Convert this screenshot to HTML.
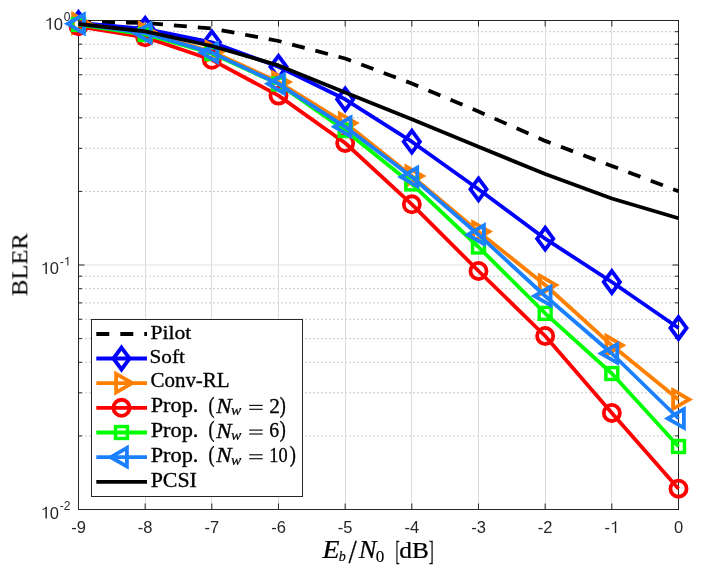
<!DOCTYPE html>
<html><head><meta charset="utf-8"><style>
html,body{margin:0;padding:0;background:#fff;width:705px;height:575px;overflow:hidden}
svg{display:block}
text{will-change:transform}
</style></head><body>
<svg width="705" height="575" viewBox="0 0 705 575">
<rect x="0" y="0" width="705" height="575" fill="#fff"/>
<line x1="79" y1="435.90" x2="678.5" y2="435.90" stroke="#c8c8c8" stroke-width="1" stroke-dasharray="2 2" stroke-dashoffset="2"/>
<line x1="79" y1="392.84" x2="678.5" y2="392.84" stroke="#c8c8c8" stroke-width="1" stroke-dasharray="2 2" stroke-dashoffset="2"/>
<line x1="79" y1="362.30" x2="678.5" y2="362.30" stroke="#c8c8c8" stroke-width="1" stroke-dasharray="2 2" stroke-dashoffset="2"/>
<line x1="79" y1="338.60" x2="678.5" y2="338.60" stroke="#c8c8c8" stroke-width="1" stroke-dasharray="2 2" stroke-dashoffset="2"/>
<line x1="79" y1="319.24" x2="678.5" y2="319.24" stroke="#c8c8c8" stroke-width="1" stroke-dasharray="2 2" stroke-dashoffset="2"/>
<line x1="79" y1="302.87" x2="678.5" y2="302.87" stroke="#c8c8c8" stroke-width="1" stroke-dasharray="2 2" stroke-dashoffset="2"/>
<line x1="79" y1="288.69" x2="678.5" y2="288.69" stroke="#c8c8c8" stroke-width="1" stroke-dasharray="2 2" stroke-dashoffset="2"/>
<line x1="79" y1="276.19" x2="678.5" y2="276.19" stroke="#c8c8c8" stroke-width="1" stroke-dasharray="2 2" stroke-dashoffset="2"/>
<line x1="79" y1="191.40" x2="678.5" y2="191.40" stroke="#c8c8c8" stroke-width="1" stroke-dasharray="2 2" stroke-dashoffset="2"/>
<line x1="79" y1="148.34" x2="678.5" y2="148.34" stroke="#c8c8c8" stroke-width="1" stroke-dasharray="2 2" stroke-dashoffset="2"/>
<line x1="79" y1="117.80" x2="678.5" y2="117.80" stroke="#c8c8c8" stroke-width="1" stroke-dasharray="2 2" stroke-dashoffset="2"/>
<line x1="79" y1="94.10" x2="678.5" y2="94.10" stroke="#c8c8c8" stroke-width="1" stroke-dasharray="2 2" stroke-dashoffset="2"/>
<line x1="79" y1="74.74" x2="678.5" y2="74.74" stroke="#c8c8c8" stroke-width="1" stroke-dasharray="2 2" stroke-dashoffset="2"/>
<line x1="79" y1="58.37" x2="678.5" y2="58.37" stroke="#c8c8c8" stroke-width="1" stroke-dasharray="2 2" stroke-dashoffset="2"/>
<line x1="79" y1="44.19" x2="678.5" y2="44.19" stroke="#c8c8c8" stroke-width="1" stroke-dasharray="2 2" stroke-dashoffset="2"/>
<line x1="79" y1="31.69" x2="678.5" y2="31.69" stroke="#c8c8c8" stroke-width="1" stroke-dasharray="2 2" stroke-dashoffset="2"/>
<line x1="145.50" y1="20.5" x2="145.50" y2="509.5" stroke="#dcdcdc" stroke-width="1"/>
<line x1="211.50" y1="20.5" x2="211.50" y2="509.5" stroke="#dcdcdc" stroke-width="1"/>
<line x1="278.50" y1="20.5" x2="278.50" y2="509.5" stroke="#dcdcdc" stroke-width="1"/>
<line x1="345.50" y1="20.5" x2="345.50" y2="509.5" stroke="#dcdcdc" stroke-width="1"/>
<line x1="411.50" y1="20.5" x2="411.50" y2="509.5" stroke="#dcdcdc" stroke-width="1"/>
<line x1="478.50" y1="20.5" x2="478.50" y2="509.5" stroke="#dcdcdc" stroke-width="1"/>
<line x1="545.50" y1="20.5" x2="545.50" y2="509.5" stroke="#dcdcdc" stroke-width="1"/>
<line x1="611.50" y1="20.5" x2="611.50" y2="509.5" stroke="#dcdcdc" stroke-width="1"/>
<line x1="78.5" y1="265.00" x2="678.5" y2="265.00" stroke="#e1e1e1" stroke-width="1"/>
<rect x="78.5" y="20.5" width="600.0" height="489.0" fill="none" stroke="#262626" stroke-width="1"/>
<path d="M78.50 509.5v-6M78.50 20.5v6M145.17 509.5v-6M145.17 20.5v6M211.83 509.5v-6M211.83 20.5v6M278.50 509.5v-6M278.50 20.5v6M345.17 509.5v-6M345.17 20.5v6M411.83 509.5v-6M411.83 20.5v6M478.50 509.5v-6M478.50 20.5v6M545.17 509.5v-6M545.17 20.5v6M611.83 509.5v-6M611.83 20.5v6M678.50 509.5v-6M678.50 20.5v6M78.5 20.50h6M678.5 20.50h-6M78.5 265.00h6M678.5 265.00h-6M78.5 509.50h6M678.5 509.50h-6M78.5 435.90h3.5M678.5 435.90h-3.5M78.5 392.84h3.5M678.5 392.84h-3.5M78.5 362.30h3.5M678.5 362.30h-3.5M78.5 338.60h3.5M678.5 338.60h-3.5M78.5 319.24h3.5M678.5 319.24h-3.5M78.5 302.87h3.5M678.5 302.87h-3.5M78.5 288.69h3.5M678.5 288.69h-3.5M78.5 276.19h3.5M678.5 276.19h-3.5M78.5 191.40h3.5M678.5 191.40h-3.5M78.5 148.34h3.5M678.5 148.34h-3.5M78.5 117.80h3.5M678.5 117.80h-3.5M78.5 94.10h3.5M678.5 94.10h-3.5M78.5 74.74h3.5M678.5 74.74h-3.5M78.5 58.37h3.5M678.5 58.37h-3.5M78.5 44.19h3.5M678.5 44.19h-3.5M78.5 31.69h3.5M678.5 31.69h-3.5" stroke="#262626" stroke-width="1" fill="none"/>
<polyline points="78.50,21.50 145.17,23.00 211.83,28.50 278.50,41.00 345.17,58.50 411.83,83.50 478.50,111.50 545.17,140.90 611.83,166.00 678.50,191.20" fill="none" stroke="#000000" stroke-width="3.8" stroke-linejoin="round" stroke-dasharray="13 11" stroke-dashoffset="0.5"/>
<polyline points="78.50,23.00 145.17,28.80 211.83,42.30 278.50,66.80 345.17,99.30 411.83,141.70 478.50,189.30 545.17,238.70 611.83,282.00 678.50,328.00" fill="none" stroke="#0000ff" stroke-width="3.8" stroke-linejoin="round"/>
<path d="M78.50 12.05L86.60 23.00L78.50 33.95L70.40 23.00Z" fill="none" stroke="#0000ff" stroke-width="3.8" stroke-linejoin="miter"/>
<path d="M145.17 17.85L153.27 28.80L145.17 39.75L137.07 28.80Z" fill="none" stroke="#0000ff" stroke-width="3.8" stroke-linejoin="miter"/>
<path d="M211.83 31.35L219.93 42.30L211.83 53.25L203.73 42.30Z" fill="none" stroke="#0000ff" stroke-width="3.8" stroke-linejoin="miter"/>
<path d="M278.50 55.85L286.60 66.80L278.50 77.75L270.40 66.80Z" fill="none" stroke="#0000ff" stroke-width="3.8" stroke-linejoin="miter"/>
<path d="M345.17 88.35L353.27 99.30L345.17 110.25L337.07 99.30Z" fill="none" stroke="#0000ff" stroke-width="3.8" stroke-linejoin="miter"/>
<path d="M411.83 130.75L419.93 141.70L411.83 152.65L403.73 141.70Z" fill="none" stroke="#0000ff" stroke-width="3.8" stroke-linejoin="miter"/>
<path d="M478.50 178.35L486.60 189.30L478.50 200.25L470.40 189.30Z" fill="none" stroke="#0000ff" stroke-width="3.8" stroke-linejoin="miter"/>
<path d="M545.17 227.75L553.27 238.70L545.17 249.65L537.07 238.70Z" fill="none" stroke="#0000ff" stroke-width="3.8" stroke-linejoin="miter"/>
<path d="M611.83 271.05L619.93 282.00L611.83 292.95L603.73 282.00Z" fill="none" stroke="#0000ff" stroke-width="3.8" stroke-linejoin="miter"/>
<path d="M678.50 317.05L686.60 328.00L678.50 338.95L670.40 328.00Z" fill="none" stroke="#0000ff" stroke-width="3.8" stroke-linejoin="miter"/>
<polyline points="78.50,23.50 145.17,32.80 211.83,51.50 278.50,82.00 345.17,123.00 411.83,176.00 478.50,231.60 545.17,285.00 611.83,345.30 678.50,399.50" fill="none" stroke="#ff8000" stroke-width="3.8" stroke-linejoin="round"/>
<path d="M73.10 14.20L89.30 23.50L73.10 32.80Z" fill="none" stroke="#ff8000" stroke-width="3.8" stroke-linejoin="miter"/>
<path d="M139.77 23.50L155.97 32.80L139.77 42.10Z" fill="none" stroke="#ff8000" stroke-width="3.8" stroke-linejoin="miter"/>
<path d="M206.43 42.20L222.63 51.50L206.43 60.80Z" fill="none" stroke="#ff8000" stroke-width="3.8" stroke-linejoin="miter"/>
<path d="M273.10 72.70L289.30 82.00L273.10 91.30Z" fill="none" stroke="#ff8000" stroke-width="3.8" stroke-linejoin="miter"/>
<path d="M339.77 113.70L355.97 123.00L339.77 132.30Z" fill="none" stroke="#ff8000" stroke-width="3.8" stroke-linejoin="miter"/>
<path d="M406.43 166.70L422.63 176.00L406.43 185.30Z" fill="none" stroke="#ff8000" stroke-width="3.8" stroke-linejoin="miter"/>
<path d="M473.10 222.30L489.30 231.60L473.10 240.90Z" fill="none" stroke="#ff8000" stroke-width="3.8" stroke-linejoin="miter"/>
<path d="M539.77 275.70L555.97 285.00L539.77 294.30Z" fill="none" stroke="#ff8000" stroke-width="3.8" stroke-linejoin="miter"/>
<path d="M606.43 336.00L622.63 345.30L606.43 354.60Z" fill="none" stroke="#ff8000" stroke-width="3.8" stroke-linejoin="miter"/>
<path d="M673.10 390.20L689.30 399.50L673.10 408.80Z" fill="none" stroke="#ff8000" stroke-width="3.8" stroke-linejoin="miter"/>
<polyline points="78.50,26.30 145.17,37.30 211.83,59.80 278.50,95.60 345.17,143.00 411.83,204.30 478.50,271.00 545.17,336.00 611.83,413.00 678.50,488.70" fill="none" stroke="#ff0000" stroke-width="3.8" stroke-linejoin="round"/>
<circle cx="78.50" cy="26.30" r="8.05" fill="none" stroke="#ff0000" stroke-width="3.8"/>
<circle cx="145.17" cy="37.30" r="8.05" fill="none" stroke="#ff0000" stroke-width="3.8"/>
<circle cx="211.83" cy="59.80" r="8.05" fill="none" stroke="#ff0000" stroke-width="3.8"/>
<circle cx="278.50" cy="95.60" r="8.05" fill="none" stroke="#ff0000" stroke-width="3.8"/>
<circle cx="345.17" cy="143.00" r="8.05" fill="none" stroke="#ff0000" stroke-width="3.8"/>
<circle cx="411.83" cy="204.30" r="8.05" fill="none" stroke="#ff0000" stroke-width="3.8"/>
<circle cx="478.50" cy="271.00" r="8.05" fill="none" stroke="#ff0000" stroke-width="3.8"/>
<circle cx="545.17" cy="336.00" r="8.05" fill="none" stroke="#ff0000" stroke-width="3.8"/>
<circle cx="611.83" cy="413.00" r="8.05" fill="none" stroke="#ff0000" stroke-width="3.8"/>
<circle cx="678.50" cy="488.70" r="8.05" fill="none" stroke="#ff0000" stroke-width="3.8"/>
<polyline points="78.50,24.50 145.17,34.50 211.83,53.50 278.50,84.00 345.17,130.50 411.83,183.90 478.50,247.00 545.17,313.40 611.83,373.50 678.50,446.50" fill="none" stroke="#00ff00" stroke-width="3.8" stroke-linejoin="round"/>
<rect x="72.55" y="18.55" width="11.9" height="11.9" fill="none" stroke="#00ff00" stroke-width="3.42"/>
<rect x="139.22" y="28.55" width="11.9" height="11.9" fill="none" stroke="#00ff00" stroke-width="3.42"/>
<rect x="205.88" y="47.55" width="11.9" height="11.9" fill="none" stroke="#00ff00" stroke-width="3.42"/>
<rect x="272.55" y="78.05" width="11.9" height="11.9" fill="none" stroke="#00ff00" stroke-width="3.42"/>
<rect x="339.22" y="124.55" width="11.9" height="11.9" fill="none" stroke="#00ff00" stroke-width="3.42"/>
<rect x="405.88" y="177.95" width="11.9" height="11.9" fill="none" stroke="#00ff00" stroke-width="3.42"/>
<rect x="472.55" y="241.05" width="11.9" height="11.9" fill="none" stroke="#00ff00" stroke-width="3.42"/>
<rect x="539.22" y="307.45" width="11.9" height="11.9" fill="none" stroke="#00ff00" stroke-width="3.42"/>
<rect x="605.88" y="367.55" width="11.9" height="11.9" fill="none" stroke="#00ff00" stroke-width="3.42"/>
<rect x="672.55" y="440.55" width="11.9" height="11.9" fill="none" stroke="#00ff00" stroke-width="3.42"/>
<polyline points="78.50,23.80 145.17,33.00 211.83,52.60 278.50,83.80 345.17,126.80 411.83,177.00 478.50,234.70 545.17,296.00 611.83,353.50 678.50,418.50" fill="none" stroke="#1a80ff" stroke-width="3.8" stroke-linejoin="round"/>
<path d="M83.90 14.50L67.70 23.80L83.90 33.10Z" fill="none" stroke="#1a80ff" stroke-width="3.8" stroke-linejoin="miter"/>
<path d="M150.57 23.70L134.37 33.00L150.57 42.30Z" fill="none" stroke="#1a80ff" stroke-width="3.8" stroke-linejoin="miter"/>
<path d="M217.23 43.30L201.03 52.60L217.23 61.90Z" fill="none" stroke="#1a80ff" stroke-width="3.8" stroke-linejoin="miter"/>
<path d="M283.90 74.50L267.70 83.80L283.90 93.10Z" fill="none" stroke="#1a80ff" stroke-width="3.8" stroke-linejoin="miter"/>
<path d="M350.57 117.50L334.37 126.80L350.57 136.10Z" fill="none" stroke="#1a80ff" stroke-width="3.8" stroke-linejoin="miter"/>
<path d="M417.23 167.70L401.03 177.00L417.23 186.30Z" fill="none" stroke="#1a80ff" stroke-width="3.8" stroke-linejoin="miter"/>
<path d="M483.90 225.40L467.70 234.70L483.90 244.00Z" fill="none" stroke="#1a80ff" stroke-width="3.8" stroke-linejoin="miter"/>
<path d="M550.57 286.70L534.37 296.00L550.57 305.30Z" fill="none" stroke="#1a80ff" stroke-width="3.8" stroke-linejoin="miter"/>
<path d="M617.23 344.20L601.03 353.50L617.23 362.80Z" fill="none" stroke="#1a80ff" stroke-width="3.8" stroke-linejoin="miter"/>
<path d="M683.90 409.20L667.70 418.50L683.90 427.80Z" fill="none" stroke="#1a80ff" stroke-width="3.8" stroke-linejoin="miter"/>
<polyline points="78.50,24.00 145.17,31.30 211.83,46.00 278.50,65.40 345.17,92.40 411.83,119.30 478.50,146.80 545.17,174.00 611.83,198.50 678.50,218.30" fill="none" stroke="#000000" stroke-width="3.8" stroke-linejoin="round"/>
<text x="71.17" y="533.00" font-family="Liberation Sans, sans-serif" font-size="16.5" fill="#262626">-</text>
<text x="76.66" y="533.00" font-family="Liberation Sans, sans-serif" font-size="16.5" fill="#262626">9</text>
<text x="137.83" y="533.00" font-family="Liberation Sans, sans-serif" font-size="16.5" fill="#262626">-</text>
<text x="143.33" y="533.00" font-family="Liberation Sans, sans-serif" font-size="16.5" fill="#262626">8</text>
<text x="204.50" y="533.00" font-family="Liberation Sans, sans-serif" font-size="16.5" fill="#262626">-</text>
<text x="209.99" y="533.00" font-family="Liberation Sans, sans-serif" font-size="16.5" fill="#262626">7</text>
<text x="271.17" y="533.00" font-family="Liberation Sans, sans-serif" font-size="16.5" fill="#262626">-</text>
<text x="276.66" y="533.00" font-family="Liberation Sans, sans-serif" font-size="16.5" fill="#262626">6</text>
<text x="337.83" y="533.00" font-family="Liberation Sans, sans-serif" font-size="16.5" fill="#262626">-</text>
<text x="343.33" y="533.00" font-family="Liberation Sans, sans-serif" font-size="16.5" fill="#262626">5</text>
<text x="404.50" y="533.00" font-family="Liberation Sans, sans-serif" font-size="16.5" fill="#262626">-</text>
<text x="409.99" y="533.00" font-family="Liberation Sans, sans-serif" font-size="16.5" fill="#262626">4</text>
<text x="471.17" y="533.00" font-family="Liberation Sans, sans-serif" font-size="16.5" fill="#262626">-</text>
<text x="476.66" y="533.00" font-family="Liberation Sans, sans-serif" font-size="16.5" fill="#262626">3</text>
<text x="537.83" y="533.00" font-family="Liberation Sans, sans-serif" font-size="16.5" fill="#262626">-</text>
<text x="543.33" y="533.00" font-family="Liberation Sans, sans-serif" font-size="16.5" fill="#262626">2</text>
<text x="604.50" y="533.00" font-family="Liberation Sans, sans-serif" font-size="16.5" fill="#262626">-</text>
<path d="M616.23 533.00L616.23 521.30L615.14 521.30Q614.45 523.10 611.73 523.51L611.73 524.59Q613.71 524.34 614.78 523.35L614.78 533.00Z" fill="#262626"/>
<text x="673.91" y="533.00" font-family="Liberation Sans, sans-serif" font-size="16.5" fill="#262626">0</text>
<path d="M50.92 29.50L50.92 17.80L49.83 17.80Q49.14 19.60 46.41 20.01L46.41 21.09Q48.39 20.84 49.47 19.85L49.47 29.50Z" fill="#262626"/>
<text x="53.85" y="29.50" font-family="Liberation Sans, sans-serif" font-size="16.5" fill="#262626">0</text>
<text x="63.83" y="21.00" font-family="Liberation Sans, sans-serif" font-size="12" fill="#262626">0</text>
<path d="M46.92 274.00L46.92 262.30L45.83 262.30Q45.14 264.10 42.42 264.51L42.42 265.58Q44.40 265.34 45.47 264.35L45.47 274.00Z" fill="#262626"/>
<text x="49.86" y="274.00" font-family="Liberation Sans, sans-serif" font-size="16.5" fill="#262626">0</text>
<text x="59.83" y="265.50" font-family="Liberation Sans, sans-serif" font-size="12" fill="#262626">-</text>
<path d="M68.36 265.50L68.36 256.99L67.57 256.99Q67.07 258.30 65.09 258.60L65.09 259.38Q66.53 259.20 67.31 258.48L67.31 265.50Z" fill="#262626"/>
<path d="M46.92 518.50L46.92 506.80L45.83 506.80Q45.14 508.60 42.42 509.01L42.42 510.08Q44.40 509.84 45.47 508.85L45.47 518.50Z" fill="#262626"/>
<text x="49.86" y="518.50" font-family="Liberation Sans, sans-serif" font-size="16.5" fill="#262626">0</text>
<text x="59.83" y="510.00" font-family="Liberation Sans, sans-serif" font-size="12" fill="#262626">-</text>
<text x="63.83" y="510.00" font-family="Liberation Sans, sans-serif" font-size="12" fill="#262626">2</text>
<text transform="translate(26.900 296.140) rotate(-90) scale(0.24683 0.23385)" font-family="Liberation Serif, serif" font-size="100" stroke="#000" stroke-width="0.4">BLER</text>
<g fill="#000">
<text transform="matrix(0.27833 0 0 0.24615 322.578 558.200)" font-family="Liberation Serif, serif" font-size="100" font-style="italic" stroke="#000" stroke-width="1.0">E</text>
<text transform="matrix(0.14186 0 0 0.15143 338.633 561.449)" font-family="Liberation Serif, serif" font-size="100" font-style="italic" stroke="#000" stroke-width="1.0">b</text>
<text transform="matrix(0.29643 0 0 0.33636 348.500 563.164)" font-family="Liberation Serif, serif" font-size="100" stroke="#000" stroke-width="1.0">/</text>
<text transform="matrix(0.26528 0 0 0.24615 358.665 558.200)" font-family="Liberation Serif, serif" font-size="100" font-style="italic" stroke="#000" stroke-width="1.0">N</text>
<text transform="matrix(0.17143 0 0 0.15821 375.814 561.584)" font-family="Liberation Serif, serif" font-size="100" stroke="#000" stroke-width="1.0">0</text>
<text transform="matrix(0.12609 0 0 0.27073 395.417 559.980)" font-family="Liberation Serif, serif" font-size="100" stroke="#000" stroke-width="1.0">[</text>
<text transform="matrix(0.25370 0 0 0.23429 399.285 558.066)" font-family="Liberation Serif, serif" font-size="100" stroke="#000" stroke-width="1.0">dB</text>
<text transform="matrix(0.14091 0 0 0.27073 429.036 559.980)" font-family="Liberation Serif, serif" font-size="100" stroke="#000" stroke-width="1.0">]</text>
</g>
<rect x="91.5" y="319.5" width="211.0" height="177.0" fill="#fff" stroke="#262626" stroke-width="1"/>
<line x1="96.3" y1="334.0" x2="147" y2="334.0" stroke="#000000" stroke-width="3.8" stroke-dasharray="13 11"/>
<line x1="96.3" y1="358.5" x2="147" y2="358.5" stroke="#0000ff" stroke-width="3.8"/>
<path d="M121.50 347.55L129.60 358.50L121.50 369.45L113.40 358.50Z" fill="none" stroke="#0000ff" stroke-width="3.8" stroke-linejoin="miter"/>
<line x1="96.3" y1="383.1" x2="147" y2="383.1" stroke="#ff8000" stroke-width="3.8"/>
<path d="M116.10 373.80L132.30 383.10L116.10 392.40Z" fill="none" stroke="#ff8000" stroke-width="3.8" stroke-linejoin="miter"/>
<line x1="96.3" y1="407.8" x2="147" y2="407.8" stroke="#ff0000" stroke-width="3.8"/>
<circle cx="121.50" cy="407.80" r="8.05" fill="none" stroke="#ff0000" stroke-width="3.8"/>
<line x1="96.3" y1="432.5" x2="147" y2="432.5" stroke="#00ff00" stroke-width="3.8"/>
<rect x="115.55" y="426.55" width="11.9" height="11.9" fill="none" stroke="#00ff00" stroke-width="3.42"/>
<line x1="96.3" y1="457.2" x2="147" y2="457.2" stroke="#1a80ff" stroke-width="3.8"/>
<path d="M126.90 447.90L110.70 457.20L126.90 466.50Z" fill="none" stroke="#1a80ff" stroke-width="3.8" stroke-linejoin="miter"/>
<line x1="96.3" y1="481.9" x2="147" y2="481.9" stroke="#000000" stroke-width="3.8"/>
<g fill="#000">
<text transform="matrix(0.21622 0 0 0.19286 150.551 338.607)" font-family="Liberation Serif, serif" font-size="100" stroke="#000" stroke-width="1.6">Pilot</text>
<text transform="matrix(0.21195 0 0 0.19315 149.516 363.014)" font-family="Liberation Serif, serif" font-size="100" stroke="#000" stroke-width="1.6">Soft</text>
<text transform="matrix(0.20978 0 0 0.20149 150.461 387.497)" font-family="Liberation Serif, serif" font-size="100" stroke="#000" stroke-width="1.6">Conv-RL</text>
<text transform="matrix(0.21902 0 0 0.21194 150.643 486.676)" font-family="Liberation Serif, serif" font-size="100" stroke="#000" stroke-width="1.6">PCSI</text>
<text transform="matrix(0.22353 0 0 0.20116 150.629 412.376)" font-family="Liberation Serif, serif" font-size="100" stroke="#000" stroke-width="1.6">Prop.</text>
<text transform="matrix(0.18077 0 0 0.22222 208.477 412.633)" font-family="Liberation Serif, serif" font-size="100" stroke="#000" stroke-width="1.6">(</text>
<text transform="matrix(0.23056 0 0 0.21385 216.231 413.000)" font-family="Liberation Serif, serif" font-size="100" font-style="italic" stroke="#000" stroke-width="1.6">N</text>
<text transform="matrix(0.15397 0 0 0.13617 230.938 415.464)" font-family="Liberation Serif, serif" font-size="100" font-style="italic" stroke="#000" stroke-width="1.6">w</text>
<text transform="matrix(0.21250 0 0 0.21077 269.250 413.000)" font-family="Liberation Serif, serif" font-size="100" stroke="#000" stroke-width="1.6">2</text>
<text transform="matrix(0.18077 0 0 0.22222 279.758 412.633)" font-family="Liberation Serif, serif" font-size="100" stroke="#000" stroke-width="1.6">)</text>
<text transform="matrix(0.22353 0 0 0.20116 150.629 437.076)" font-family="Liberation Serif, serif" font-size="100" stroke="#000" stroke-width="1.6">Prop.</text>
<text transform="matrix(0.18077 0 0 0.22222 208.477 437.333)" font-family="Liberation Serif, serif" font-size="100" stroke="#000" stroke-width="1.6">(</text>
<text transform="matrix(0.23056 0 0 0.21385 216.231 437.700)" font-family="Liberation Serif, serif" font-size="100" font-style="italic" stroke="#000" stroke-width="1.6">N</text>
<text transform="matrix(0.15397 0 0 0.13617 230.938 440.164)" font-family="Liberation Serif, serif" font-size="100" font-style="italic" stroke="#000" stroke-width="1.6">w</text>
<text transform="matrix(0.19767 0 0 0.20448 269.309 437.291)" font-family="Liberation Serif, serif" font-size="100" stroke="#000" stroke-width="1.6">6</text>
<text transform="matrix(0.18077 0 0 0.22222 279.758 437.333)" font-family="Liberation Serif, serif" font-size="100" stroke="#000" stroke-width="1.6">)</text>
<text transform="matrix(0.22353 0 0 0.20116 150.629 461.776)" font-family="Liberation Serif, serif" font-size="100" stroke="#000" stroke-width="1.6">Prop.</text>
<text transform="matrix(0.18077 0 0 0.22222 208.477 462.033)" font-family="Liberation Serif, serif" font-size="100" stroke="#000" stroke-width="1.6">(</text>
<text transform="matrix(0.23056 0 0 0.21385 216.231 462.400)" font-family="Liberation Serif, serif" font-size="100" font-style="italic" stroke="#000" stroke-width="1.6">N</text>
<text transform="matrix(0.15397 0 0 0.13617 230.938 464.864)" font-family="Liberation Serif, serif" font-size="100" font-style="italic" stroke="#000" stroke-width="1.6">w</text>
<text transform="matrix(0.18391 0 0 0.20147 269.245 461.997)" font-family="Liberation Serif, serif" font-size="100" stroke="#000" stroke-width="1.6">10</text>
<text transform="matrix(0.18462 0 0 0.22222 289.746 462.033)" font-family="Liberation Serif, serif" font-size="100" stroke="#000" stroke-width="1.6">)</text>
<rect x="249.2" y="404.85" width="13.5" height="1.1"/>
<rect x="249.2" y="408.75" width="13.5" height="1.1"/>
<rect x="249.2" y="429.55" width="13.5" height="1.1"/>
<rect x="249.2" y="433.45" width="13.5" height="1.1"/>
<rect x="249.2" y="454.25" width="13.5" height="1.1"/>
<rect x="249.2" y="458.15" width="13.5" height="1.1"/>
</g>
</svg>
</body></html>
